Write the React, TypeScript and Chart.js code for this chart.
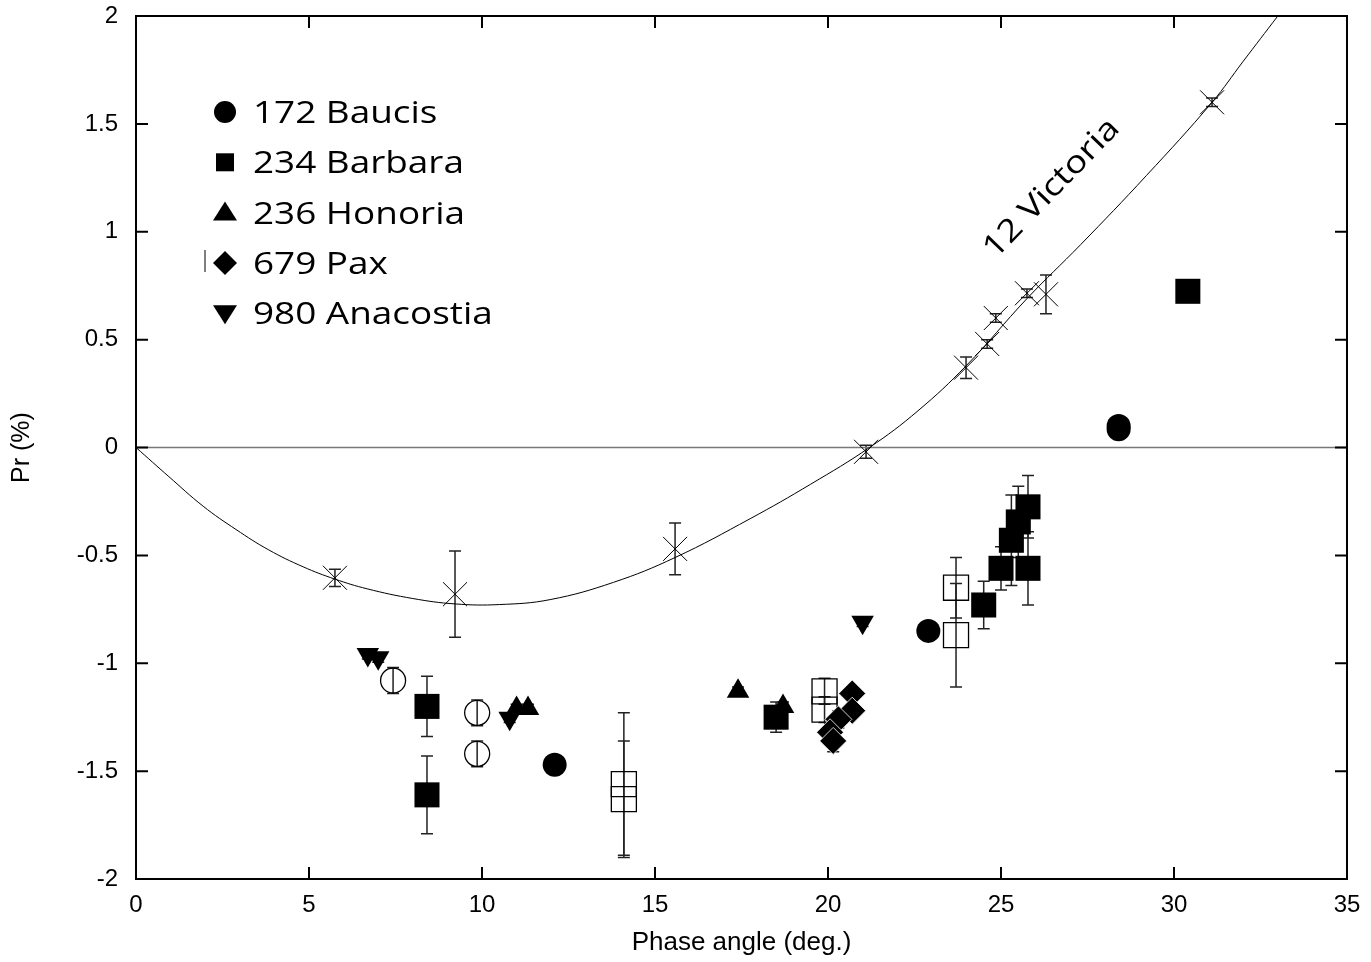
import { useEffect, useRef } from "react";
import { Chart, registerables } from "chart.js";

Chart.register(...registerables);

// ---------- axis ----------
const xTicks = [0, 5, 10, 15, 20, 25, 30, 35];
const yTicks = [-2, -1.5, -1, -0.5, 0, 0.5, 1, 1.5, 2];

// ---------- 12 Victoria (reference) ----------
const victoriaX = [5.75, 9.22, 15.58, 21.1, 23.99, 24.6, 24.85, 25.75, 26.3, 31.1];
const victoriaY = [-0.604, -0.68, -0.47, -0.02, 0.37, 0.48, 0.6, 0.715, 0.71, 1.6];
const victoriaErr = [0.04, 0.2, 0.12, 0.03, 0.05, 0.02, 0.02, 0.02, 0.09, 0.02];

// fitted phase curve of 12 Victoria
const curveX = [0, 0.95, 1.94, 2.89, 3.84, 4.83, 5.75, 6.68, 8.0, 9.22, 10.5, 11.97, 13.8, 15.58, 17.75, 19.5, 21.2, 22.6, 24.0, 25.75, 27.3, 29.2, 31.1, 32.0, 33.0];
const curveY = [0, -0.135, -0.272, -0.38, -0.475, -0.553, -0.61, -0.655, -0.7, -0.725, -0.728, -0.705, -0.625, -0.51, -0.33, -0.17, 0, 0.17, 0.38, 0.69, 0.94, 1.26, 1.6, 1.79, 2.0];

// zero line
const zeroX = [0, 35];
const zeroY = [0, 0];

// ---------- 172 Baucis ----------
const baucisX = [12.1, 22.9, 28.4, 28.4];
const baucisY = [-1.47, -0.85, 0.1, 0.085];
const baucisErr = [0.02, 0.02, 0.02, 0.02];

// ---------- 234 Barbara ----------
const barbaraX = [8.41, 8.41, 18.5, 24.5, 25.0, 25.3, 25.5, 25.78, 25.78, 30.4];
const barbaraY = [-1.2, -1.61, -1.25, -0.73, -0.56, -0.43, -0.345, -0.275, -0.56, 0.724];
const barbaraErr = [0.14, 0.18, 0.07, 0.11, 0.1, 0.21, 0.165, 0.145, 0.17, 0.02];

// ---------- 236 Honoria ----------
const honoriaX = [11.0, 11.33, 17.4, 18.7];
const honoriaY = [-1.21, -1.21, -1.13, -1.2];
const honoriaErr = [0.02, 0.02, 0.02, 0.02];

// ---------- 679 Pax ----------
const paxX = [20.7, 20.7, 20.3, 20.06, 20.15];
const paxY = [-1.14, -1.22, -1.26, -1.32, -1.36];
const paxErr = [0.03, 0.03, 0.04, 0.04, 0.05];

// ---------- 980 Anacostia ----------
const anacostiaX = [6.7, 7.0, 10.8, 21.0];
const anacostiaY = [-0.96, -0.975, -1.255, -0.81];
const anacostiaErr = [0.02, 0.02, 0.02, 0.02];

// ---------- other observations (open symbols) ----------
const openCircleX = [7.43, 9.86, 9.86];
const openCircleY = [-1.08, -1.23, -1.42];
const openCircleErr = [0.06, 0.06, 0.06];

const openSquareX = [14.1, 14.1, 19.9, 19.9, 23.7, 23.7];
const openSquareY = [-1.56, -1.63, -1.13, -1.215, -0.65, -0.87];
const openSquareErr = [0.33, 0.27, 0.06, 0.06, 0.14, 0.24];

// ---------- legend ----------
const legendLabels = ["172 Baucis", "234 Barbara", "236 Honoria", "679 Pax", "980 Anacostia"];
const legendShapes = ["circle", "square", "triangle", "diamond", "triangleDown"];
const curveLabel = "12 Victoria";

const pts = (xs: number[], ys: number[]) => xs.map((x, i) => ({ x, y: ys[i] }));

const LEGEND_FONT = '31px "Open Sans"';
const STRETCH = 1.19;

const errorBarPlugin = {
  id: "errorBars",
  beforeDatasetsDraw(chart: any) {
    const { ctx, chartArea, scales } = chart;
    const xs = scales.x;
    const ys = scales.y;
    ctx.save();
    ctx.beginPath();
    ctx.rect(chartArea.left, chartArea.top, chartArea.width, chartArea.height);
    ctx.clip();
    ctx.strokeStyle = "#222";
    ctx.lineWidth = 1.5;
    chart.data.datasets.forEach((ds: any) => {
      const errs = ds.errorBars;
      if (!errs) return;
      ds.data.forEach((p: any, i: number) => {
        const e = errs[i];
        if (!e) return;
        const px = xs.getPixelForValue(p.x);
        const top = ys.getPixelForValue(p.y + e);
        const bot = ys.getPixelForValue(p.y - e);
        ctx.beginPath();
        ctx.moveTo(px, top);
        ctx.lineTo(px, bot);
        ctx.moveTo(px - 6, top);
        ctx.lineTo(px + 6, top);
        ctx.moveTo(px - 6, bot);
        ctx.lineTo(px + 6, bot);
        ctx.stroke();
      });
    });
    ctx.restore();
  },
};

function drawShape(ctx: CanvasRenderingContext2D, shape: string, cx: number, cy: number) {
  ctx.beginPath();
  if (shape === "circle") {
    ctx.arc(cx, cy, 11, 0, Math.PI * 2);
  } else if (shape === "square") {
    ctx.rect(cx - 9, cy - 9, 18, 18);
  } else if (shape === "triangle") {
    ctx.moveTo(cx, cy - 11);
    ctx.lineTo(cx + 12, cy + 8);
    ctx.lineTo(cx - 12, cy + 8);
    ctx.closePath();
  } else if (shape === "diamond") {
    ctx.moveTo(cx, cy - 12);
    ctx.lineTo(cx + 12, cy);
    ctx.lineTo(cx, cy + 12);
    ctx.lineTo(cx - 12, cy);
    ctx.closePath();
  } else if (shape === "triangleDown") {
    ctx.moveTo(cx - 12, cy - 8);
    ctx.lineTo(cx + 12, cy - 8);
    ctx.lineTo(cx, cy + 11);
    ctx.closePath();
  }
  ctx.fill();
}

const framePlugin = {
  id: "frame",
  afterDraw(chart: any) {
    const { ctx, chartArea, scales } = chart;
    const { left, right, top, bottom } = chartArea;
    const xs = scales.x;
    const ys = scales.y;
    ctx.save();
    ctx.strokeStyle = "#000";
    ctx.lineWidth = 2;
    ctx.strokeRect(left, top, right - left, bottom - top);
    const TL = 12;
    ctx.beginPath();
    xTicks.forEach((v) => {
      const px = xs.getPixelForValue(v);
      ctx.moveTo(px, bottom);
      ctx.lineTo(px, bottom - TL);
      ctx.moveTo(px, top);
      ctx.lineTo(px, top + TL);
    });
    yTicks.forEach((v) => {
      const py = ys.getPixelForValue(v);
      ctx.moveTo(left, py);
      ctx.lineTo(left + TL, py);
      ctx.moveTo(right, py);
      ctx.lineTo(right - TL, py);
    });
    ctx.stroke();

    // legend
    ctx.fillStyle = "#000";
    legendLabels.forEach((label, i) => {
      const cy = top + 96 + i * 50.3;
      drawShape(ctx, legendShapes[i], left + 89, cy);
      ctx.save();
      ctx.translate(left + 117, cy + 11);
      ctx.scale(STRETCH, 1);
      ctx.font = LEGEND_FONT;
      ctx.textAlign = "left";
      ctx.textBaseline = "alphabetic";
      ctx.fillText(label, 0, 0);
      ctx.restore();
    });
    // small stray bar left of the Pax marker
    ctx.strokeStyle = "#555";
    ctx.lineWidth = 1.5;
    ctx.beginPath();
    ctx.moveTo(left + 69, top + 234);
    ctx.lineTo(left + 69, top + 256);
    ctx.stroke();

    // curve label
    ctx.save();
    ctx.translate(xs.getPixelForValue(26.47), ys.getPixelForValue(1.2));
    ctx.rotate((-46 * Math.PI) / 180);
    ctx.scale(STRETCH, 1);
    ctx.font = LEGEND_FONT;
    ctx.fillStyle = "#000";
    ctx.textAlign = "center";
    ctx.textBaseline = "middle";
    ctx.fillText(curveLabel, 0, 0);
    ctx.restore();

    ctx.restore();
  },
};

export default function App() {
  const ref = useRef<HTMLCanvasElement | null>(null);

  useEffect(() => {
    document.body.style.margin = "0";
    if (!ref.current) return;
    const tickFont = { family: '"Liberation Sans", Arial, Helvetica, sans-serif', size: 24 };
    const chart = new Chart(ref.current, {
      type: "scatter",
      data: {
        datasets: [
          {
            label: "12 Victoria",
            data: pts(victoriaX, victoriaY),
            pointStyle: "crossRot",
            pointRadius: 17,
            borderColor: "#000",
            borderWidth: 1,
            backgroundColor: "#000",
            errorBars: victoriaErr,
          } as any,
          {
            label: "172 Baucis",
            data: pts(baucisX, baucisY),
            pointStyle: "circle",
            pointRadius: 12,
            backgroundColor: "#000",
            borderColor: "#000",
            borderWidth: 0,
            errorBars: baucisErr,
          } as any,
          {
            label: "234 Barbara",
            data: pts(barbaraX, barbaraY),
            pointStyle: "rect",
            pointRadius: 17.7,
            backgroundColor: "#000",
            borderColor: "#000",
            borderWidth: 0,
            errorBars: barbaraErr,
          } as any,
          {
            label: "236 Honoria",
            data: pts(honoriaX, honoriaY),
            pointStyle: "triangle",
            pointRadius: 13,
            backgroundColor: "#000",
            borderColor: "#000",
            borderWidth: 0,
            errorBars: honoriaErr,
          } as any,
          {
            label: "679 Pax",
            data: pts(paxX, paxY),
            pointStyle: "rectRot",
            pointRadius: 13.5,
            backgroundColor: "#000",
            borderColor: "#fff",
            borderWidth: 0.8,
            errorBars: paxErr,
          } as any,
          {
            label: "980 Anacostia",
            data: pts(anacostiaX, anacostiaY),
            pointStyle: "triangle",
            rotation: 180,
            pointRadius: 13,
            backgroundColor: "#000",
            borderColor: "#000",
            borderWidth: 0,
            errorBars: anacostiaErr,
          } as any,
          {
            label: "open circles",
            data: pts(openCircleX, openCircleY),
            pointStyle: "circle",
            pointRadius: 12.5,
            backgroundColor: "rgba(0,0,0,0)",
            borderColor: "#000",
            borderWidth: 1.3,
            errorBars: openCircleErr,
          } as any,
          {
            label: "open squares",
            data: pts(openSquareX, openSquareY),
            pointStyle: "rect",
            pointRadius: 17.7,
            backgroundColor: "rgba(0,0,0,0)",
            borderColor: "#000",
            borderWidth: 1.3,
            errorBars: openSquareErr,
          } as any,
          {
            label: "fit",
            data: pts(curveX, curveY),
            showLine: true,
            pointRadius: 0,
            borderColor: "#000",
            borderWidth: 1,
            tension: 0.4,
          } as any,
          {
            label: "zero",
            data: pts(zeroX, zeroY),
            showLine: true,
            pointRadius: 0,
            borderColor: "#777",
            borderWidth: 1.5,
          } as any,
        ],
      },
      options: {
        responsive: false,
        animation: false,
        devicePixelRatio: 1,
        layout: { autoPadding: false, padding: { top: 16, right: 24, left: 0, bottom: 0 } },
        plugins: {
          legend: { display: false },
          tooltip: { enabled: false },
        },
        scales: {
          x: {
            type: "linear",
            min: 0,
            max: 35,
            afterFit: (s: any) => {
              s.height = 83;
              s.paddingLeft = 0;
              s.paddingRight = 0;
            },
            ticks: { stepSize: 5, font: tickFont, color: "#000", padding: 12, maxRotation: 0 },
            grid: { display: false, drawTicks: false },
            border: { display: false },
            title: {
              display: true,
              text: "Phase angle (deg.)",
              color: "#000",
              font: { family: tickFont.family, size: 26 },
              padding: { top: 0, bottom: 4 },
            },
          },
          y: {
            type: "linear",
            min: -2,
            max: 2,
            afterFit: (s: any) => {
              s.width = 136;
              s.paddingTop = 0;
              s.paddingBottom = 0;
            },
            ticks: {
              stepSize: 0.5,
              font: tickFont,
              color: "#000",
              padding: 18,
              callback: (v: any) => String(v),
            },
            grid: { display: false, drawTicks: false },
            border: { display: false },
            title: {
              display: true,
              text: "Pr (%)",
              color: "#000",
              font: { family: tickFont.family, size: 25 },
              padding: { top: 7, bottom: 0 },
            },
          },
        },
      } as any,
      plugins: [errorBarPlugin, framePlugin],
    });
    return () => chart.destroy();
  }, []);

  return (
    <div style={{ width: 1371, height: 962, background: "#fff" }}>
      <canvas ref={ref} width={1371} height={962} style={{ display: "block" }} />
    </div>
  );
}
